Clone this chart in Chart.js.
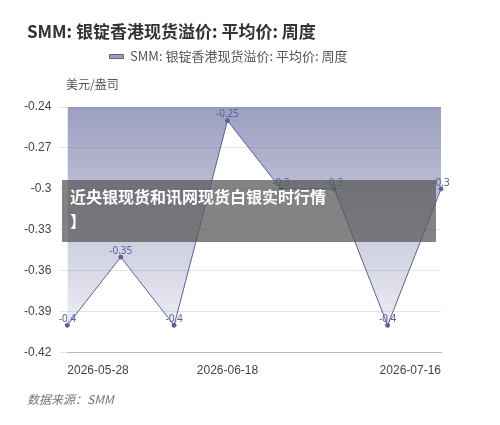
<!DOCTYPE html>
<html><head><meta charset="utf-8">
<script src="https://cdn.jsdelivr.net/npm/chart.js@4"></script>
<style>
body{margin:0;background:#fff;font-family:"Noto Sans CJK SC",sans-serif;}
#wrap{position:relative;width:500px;height:425px;}
#title{position:absolute;left:27px;top:18px;font-size:17px;font-weight:bold;color:#333;}
#unit{position:absolute;left:66px;top:75px;font-size:12px;color:#555;}
#src{position:absolute;left:27px;top:390px;font-size:12px;color:#777;font-style:italic;}
#band{position:absolute;left:62px;top:180px;width:374px;height:62px;background:rgba(90,90,90,0.75);color:#fff;font-size:16px;font-weight:bold;padding:4px 8px;box-sizing:border-box;line-height:24px;}
canvas{position:absolute;left:0;top:0;}
</style></head><body>
<div id="wrap">
<canvas id="c" width="500" height="425"></canvas>
<div id="title">SMM: 银锭香港现货溢价: 平均价: 周度</div>
<div id="unit">美元/盎司</div>
<div id="band">近央银现货和讯网现货白银实时行情<br>】</div>
<div id="src">数据来源：SMM</div>
</div>
<script>
// data
const dates = ["2026-05-28","2026-06-04","2026-06-11","2026-06-18","2026-06-25","2026-07-02","2026-07-09","2026-07-16"];
const premium = [-0.4, -0.35, -0.4, -0.25, -0.3, -0.3, -0.4, -0.3];
const shownTicks = [0, 3, 7];
const seriesName = "SMM: 银锭香港现货溢价: 平均价: 周度";

const labelPlugin = {
  id: "vals",
  afterDatasetsDraw(chart) {
    const ctx = chart.ctx;
    const meta = chart.getDatasetMeta(0);
    ctx.save();
    ctx.fillStyle = "#5b5f97";
    ctx.font = "10px 'Noto Sans'";
    ctx.textAlign = "center";
    meta.data.forEach((pt, i) => {
      ctx.fillText(String(premium[i]), pt.x, pt.y - 6);
    });
    ctx.restore();
  }
};

const legendGap = {
  id: "legendGap",
  beforeInit(chart) {
    const fit = chart.legend.fit;
    chart.legend.fit = function () { fit.bind(chart.legend)(); this.height += 34; };
  }
};

new Chart(document.getElementById("c"), {
  type: "line",
  data: {
    labels: dates,
    datasets: [{
      label: seriesName,
      data: premium,
      borderColor: "#5b5f97",
      borderWidth: 1,
      pointRadius: 2,
      pointBackgroundColor: "#5b5f97",
      tension: 0,
      fill: "end",
      backgroundColor: (c) => {
        const a = c.chart.chartArea;
        if (!a) return "rgba(91,95,151,0.3)";
        const g = c.chart.ctx.createLinearGradient(0, a.top, 0, a.bottom);
        g.addColorStop(0, "rgba(91,95,151,0.6)");
        g.addColorStop(1, "rgba(91,95,151,0.05)");
        return g;
      }
    }]
  },
  options: {
    responsive: false,
    animation: false,
    layout: { padding: { top: 40, left: 16, right: 59, bottom: 44 } },
    plugins: {
      legend: {
        labels: { color: "#555", font: { size: 13, family: "Noto Sans CJK SC" }, boxWidth: 14, boxHeight: 4 }
      },
      tooltip: { enabled: false }
    },
    scales: {
      x: {
        offset: false,
        grid: { display: false },
        border: { color: "#bbb" },
        ticks: {
          autoSkip: false, maxRotation: 0, align: "inner",
          color: "#444", font: { size: 12 },
          callback: (v, i) => shownTicks.includes(i) ? dates[i] : ""
        }
      },
      y: {
        min: -0.42, max: -0.24,
        grid: { color: "#e6e6e6" },
        border: { display: false },
        ticks: { stepSize: 0.03, color: "#444", font: { size: 12 }, padding: 8,
          callback: v => Number(v.toFixed(2)) }
      }
    }
  },
  plugins: [labelPlugin, legendGap]
});
</script>
</body></html>
